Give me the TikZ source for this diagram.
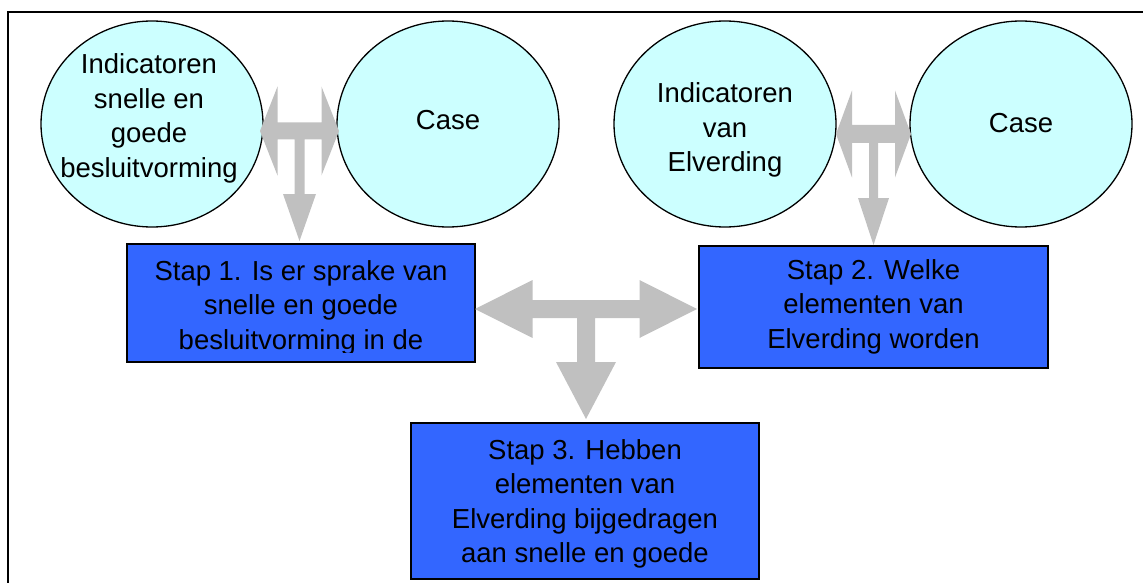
\documentclass[tikz,border=0pt]{standalone}
\usepackage{fontspec}
\setmainfont{Liberation Sans}
\usetikzlibrary{shapes.geometric,positioning}

\definecolor{casecyan}{HTML}{CCFFFF}
\definecolor{stepblue}{HTML}{3366FF}
\definecolor{arrowgray}{HTML}{C0C0C0}

\tikzset{
  bubble/.style={ellipse, draw, line width=1.3pt, fill=casecyan,
    minimum width=222pt, minimum height=206pt, inner sep=0pt},
  stepbox/.style={rectangle, draw, line width=1.5pt, fill=stepblue, inner sep=0pt},
  steptext/.style={align=center, inner sep=0pt},
  bigarrow/.style={fill=arrowgray, draw=none}
}

\begin{document}
\begin{tikzpicture}[x=1pt,y=-1pt,font=\fontsize{27.5}{34.5}\selectfont]
  \useasboundingbox (0,0) rectangle (1143,583);
  % outer frame, open to the right and bottom
  \draw[line width=1.5pt] (8,583) -- (8,12) -- (1143,12);

  % top row: indicators and cases
  \node[bubble] (ind1) at (152,124) {};
  \node[bubble] (case1) at (448,124) {};
  \node[bubble] (ind2) at (725,124) {};
  \node[bubble] (case2) at (1021,124) {};
  \node[align=center] at ([xshift=-3pt,yshift=5.5pt]ind1.center) {Indicatoren\\snelle en\\goede\\besluitvorming};
  \node at ([yshift=4pt]case1.center) {Case};
  \node[align=center] at ([yshift=-6pt]ind2.center) {Indicatoren\\van\\Elverding};
  \node at ([yshift=1pt]case2.center) {Case};

  % steps (text is cut off at the inner margin of each box)
  \node[stepbox, minimum width=348pt, minimum height=118pt] (stap1) at (301,303) {};
  \node[stepbox, minimum width=349pt, minimum height=122pt] (stap2) at (873.5,307) {};
  \node[stepbox, minimum width=348pt, minimum height=156pt] (stap3) at (585,501) {};
  \begin{scope}
    \clip ([yshift=10pt]stap1.south west) rectangle (stap1.north east);
    \node[steptext, below=17pt of stap1.north] {Stap 1. Is er sprake van\\snelle en goede\\besluitvorming in de};
  \end{scope}
  \begin{scope}
    \clip ([yshift=10pt]stap2.south west) rectangle (stap2.north east);
    \node[steptext, below=14pt of stap2.north] {Stap 2. Welke\\elementen van\\Elverding worden};
  \end{scope}
  \begin{scope}
    \clip ([yshift=10pt]stap3.south west) rectangle (stap3.north east);
    \node[steptext, below=17pt of stap3.north] {Stap 3. Hebben\\elementen van\\Elverding bijgedragen\\aan snelle en goede};
  \end{scope}

  % three-way block arrows
  \coordinate (fork1) at (299.5,131);
  \coordinate (fork2) at (873.5,134);
  \coordinate (fork3) at (586,309);
  \fill[bigarrow] (fork1) ++(-39.5,0) -- ++(17.5,-44.5) -- ++(0,36) -- ++(44,0) -- ++(0,-36) -- ++(17.5,44.5) -- ++(-17.5,44.5) -- ++(0,-36) -- ++(-17,0) -- ++(0,54.5) -- ++(11.5,0) -- ++(-16.5,47) -- ++(-16.5,-47) -- ++(11.5,0) -- ++(0,-54.5) -- ++(-17,0) -- ++(0,36) -- cycle;
  \fill[bigarrow] (fork2) ++(-37.5,0) -- ++(16,-43.5) -- ++(0,34.5) -- ++(43,0) -- ++(0,-34.5) -- ++(16,43.5) -- ++(-16,43.5) -- ++(0,-34.5) -- ++(-17,0) -- ++(0,55) -- ++(11,0) -- ++(-15.5,47) -- ++(-15.5,-47) -- ++(11,0) -- ++(0,-55) -- ++(-17,0) -- ++(0,34.5) -- cycle;
  \fill[bigarrow] (fork3) ++(-111,0) -- ++(57.5,-29) -- ++(0,20) -- ++(107,0) -- ++(0,-20) -- ++(57.5,29) -- ++(-57.5,29) -- ++(0,-20) -- ++(-44.5,0) -- ++(0,44) -- ++(21,0) -- ++(-30,57) -- ++(-30,-57) -- ++(21,0) -- ++(0,-44) -- ++(-44.5,0) -- ++(0,20) -- cycle;
\end{tikzpicture}
\end{document}
